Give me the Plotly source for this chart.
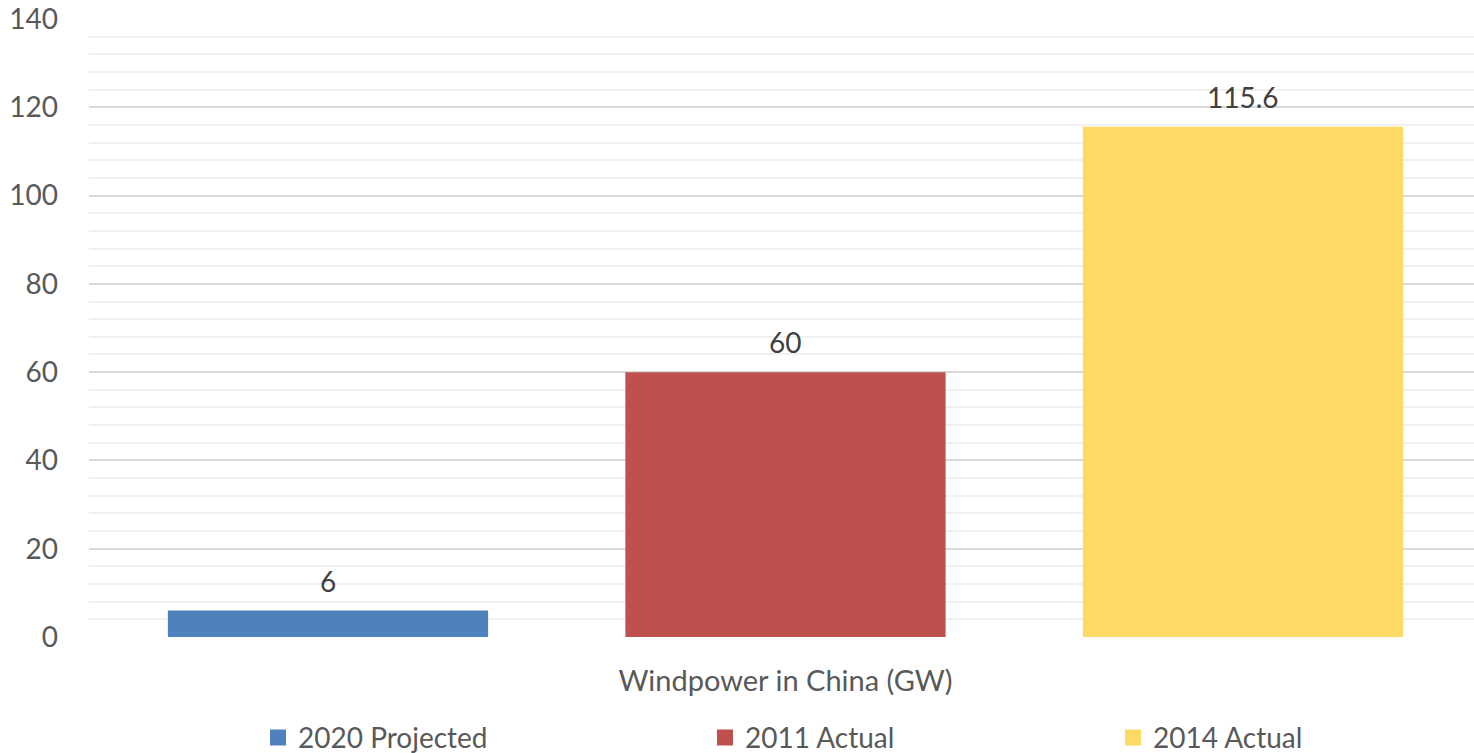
import plotly.graph_objects as go

category_label = "Windpower in China (GW)"
series_names = ["2020 Projected", "2011 Actual", "2014 Actual"]
series_values = [6, 60, 115.6]
series_labels = ["6", "60", "115.6"]
colors = ["#4F81BD", "#C0504D", "#FDDA66"]

FONT = "Lato"
FS = 28
fig = go.Figure()
legend_ids = ["legend", "legend2", "legend3"]
for i, (name, val, lab, col, lg) in enumerate(zip(series_names, series_values, series_labels, colors, legend_ids)):
    fig.add_trace(go.Bar(
        x=[i], y=[val], name=name, width=0.70,
        marker=dict(color=col, line=dict(width=0)),
        showlegend=False,
    ))
    # legend entry with a larger square swatch
    fig.add_trace(go.Scatter(
        x=[None], y=[None], name=name, mode="markers",
        marker=dict(symbol="square", size=18, color=col),
        legend=lg, showlegend=True,
    ))
    fig.add_annotation(x=i, y=val, xref="x", yref="y", text=lab, showarrow=False,
                       yanchor="bottom", yshift=11,
                       font=dict(family=FONT, size=FS, color="#404040"))

W0, W = 89, 1385
def px2paper(px):
    return (px - W0) / W

leg_common = dict(orientation="h", yanchor="middle", y=-0.163, xanchor="left",
                  font=dict(family=FONT, size=FS, color="#595959"),
                  bgcolor="rgba(0,0,0,0)", itemsizing="trace", itemwidth=30)
fig.update_layout(
    width=1474, height=753,
    margin=dict(l=89, r=0, t=19, b=116, autoexpand=False),
    paper_bgcolor="white", plot_bgcolor="white",
    showlegend=True,
    legend=dict(x=px2paper(258), **leg_common),
    legend2=dict(x=px2paper(705), **leg_common),
    legend3=dict(x=px2paper(1113), **leg_common),
    xaxis=dict(showgrid=False, showline=False, zeroline=False,
               range=[-0.5224, 2.505],
               tickvals=[1], ticktext=[category_label],
               tickfont=dict(family=FONT, size=29, color="#595959"),
               ticks="", ticklabelstandoff=24),
    yaxis=dict(range=[0, 140], dtick=20, showline=False, zeroline=False,
               gridcolor="#D9D9D9", gridwidth=1.5,
               minor=dict(dtick=4, showgrid=True, gridcolor="#F0F0F0", gridwidth=1.5),
               tickfont=dict(family=FONT, size=FS, color="#595959"),
               ticks="", ticklabelstandoff=30),
)
fig.write_html("out.html")
